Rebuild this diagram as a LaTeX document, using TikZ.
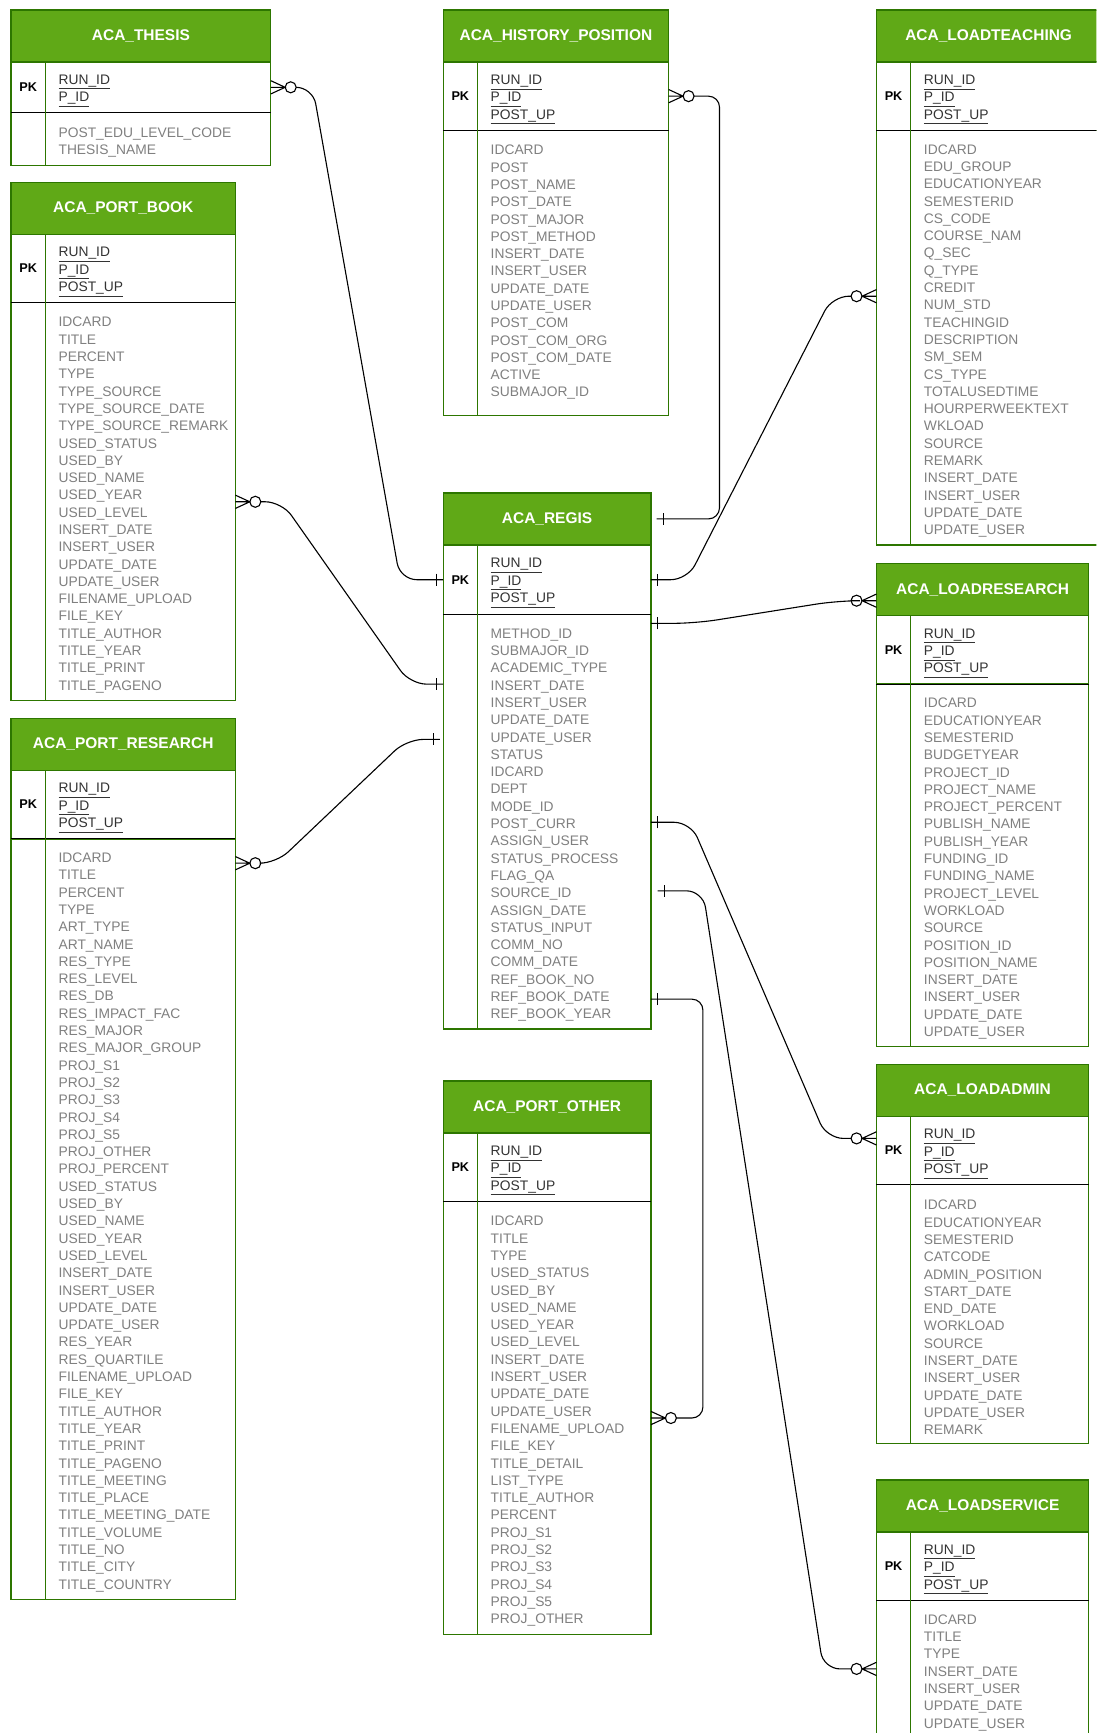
\documentclass[tikz,border=0pt]{standalone}
\usepackage{fontspec}
\setmainfont{Liberation Sans}
\usetikzlibrary{positioning}

\definecolor{headgreen}{HTML}{60A917}
\definecolor{framegreen}{HTML}{2D7600}
\definecolor{keygray}{HTML}{333333}
\definecolor{colgray}{HTML}{808080}

% zero-or-many end (circle + crow's foot)
\pgfdeclarearrow{
  name = ERmany,
  parameters = {\the\pgflinewidth},
  setup code = {
    \pgfarrowssettipend{0pt}
    \pgfarrowssetlineend{-23pt}
    \pgfarrowssetbackend{-23pt}
    \pgfarrowsupperhullpoint{0pt}{6pt}
    \pgfarrowsupperhullpoint{-23pt}{5pt}
  },
  drawing code = {
    \pgfpathmoveto{\pgfqpoint{0pt}{6pt}}
    \pgfpathlineto{\pgfqpoint{-13pt}{0pt}}
    \pgfpathlineto{\pgfqpoint{0pt}{-6pt}}
    \pgfpathmoveto{\pgfqpoint{-13pt}{0pt}}
    \pgfpathlineto{\pgfqpoint{0pt}{0pt}}
    \pgfusepathqstroke
    \pgfpathcircle{\pgfqpoint{-18pt}{0pt}}{5pt}
    \pgfusepathqstroke
  }
}
% exactly-one end (bar)
\pgfdeclarearrow{
  name = ERone,
  parameters = {\the\pgflinewidth},
  setup code = {
    \pgfarrowssettipend{0pt}
    \pgfarrowssetlineend{0pt}
    \pgfarrowssetbackend{-7pt}
    \pgfarrowsupperhullpoint{-7pt}{5.5pt}
    \pgfarrowsupperhullpoint{0pt}{5.5pt}
  },
  drawing code = {
    \pgfpathmoveto{\pgfqpoint{-6pt}{5.5pt}}
    \pgfpathlineto{\pgfqpoint{-6pt}{-5.5pt}}
    \pgfusepathqstroke
  }
}

\begin{document}
\begin{tikzpicture}[x=1pt, y=-1pt,
  tblhead/.style={draw=framegreen, fill=headgreen, line width=1.2pt, anchor=north west,
    inner sep=0pt, outer sep=0pt, minimum height=47pt, text=white,
    font=\fontsize{14}{16}\selectfont\bfseries},
  tblbox/.style={draw=framegreen, fill=white, line width=1.2pt, inner sep=0pt, outer sep=0pt},
  keytext/.style={inner sep=0pt, outer sep=0pt, align=left, text=keygray, yshift=-3pt,
    font=\fontsize{12.5}{15.65}\selectfont},
  coltext/.style={keytext, text=colgray},
  pk/.style={inner sep=0pt, font=\fontsize{11.5}{13}\selectfont\bfseries},
  relation/.style={draw=black, line width=1pt, rounded corners=15pt, arrows={ERone-ERmany}}]

\clip[use as bounding box] (0,0) rectangle (992,1568);

% ACA_THESIS
\node[tblhead, minimum width=235pt] (thesis) at (10,9) {ACA\_THESIS};
\node[tblbox, minimum width=235pt, minimum height=46pt, below=0pt of thesis] (thesis-pk) {};
\node[tblbox, minimum width=235pt, minimum height=48pt, below=0pt of thesis-pk] (thesis-body) {};
\node[keytext, right=43pt of thesis-pk.west] (thesis-keys) {\underline{RUN\_ID}\\ \underline{P\_ID}};
\node[coltext, right=43pt of thesis-body.west] (thesis-cols) {POST\_EDU\_LEVEL\_CODE\\ THESIS\_NAME};

% ACA_HISTORY_POSITION
\node[tblhead, minimum width=204pt] (history) at (401,9) {ACA\_HISTORY\_POSITION};
\node[tblbox, minimum width=204pt, minimum height=62pt, below=0pt of history] (history-pk) {};
\node[tblbox, minimum width=204pt, minimum height=258pt, below=0pt of history-pk] (history-body) {};
\node[keytext, right=43pt of history-pk.west] (history-keys) {\underline{RUN\_ID}\\ \underline{P\_ID}\\ \underline{POST\_UP}};
\node[coltext, right=43pt of history-body.west, yshift=3.5pt] (history-cols) {
IDCARD\\ POST\\ POST\_NAME\\ POST\_DATE\\ POST\_MAJOR\\ POST\_METHOD\\ INSERT\_DATE\\ INSERT\_USER\\
UPDATE\_DATE\\ UPDATE\_USER\\ POST\_COM\\ POST\_COM\_ORG\\ POST\_COM\_DATE\\ ACTIVE\\ SUBMAJOR\_ID};

% ACA_LOADTEACHING
\node[tblhead, minimum width=203pt] (teach) at (793,9) {ACA\_LOADTEACHING};
\node[tblbox, minimum width=203pt, minimum height=62pt, below=0pt of teach] (teach-pk) {};
\node[tblbox, minimum width=203pt, minimum height=375pt, below=0pt of teach-pk] (teach-body) {};
\node[keytext, right=43pt of teach-pk.west] (teach-keys) {\underline{RUN\_ID}\\ \underline{P\_ID}\\ \underline{POST\_UP}};
\node[coltext, right=43pt of teach-body.west] (teach-cols) {
IDCARD\\ EDU\_GROUP\\ EDUCATIONYEAR\\ SEMESTERID\\ CS\_CODE\\ COURSE\_NAM\\ Q\_SEC\\ Q\_TYPE\\ CREDIT\\
NUM\_STD\\ TEACHINGID\\ DESCRIPTION\\ SM\_SEM\\ CS\_TYPE\\ TOTALUSEDTIME\\ HOURPERWEEKTEXT\\ WKLOAD\\
SOURCE\\ REMARK\\ INSERT\_DATE\\ INSERT\_USER\\ UPDATE\_DATE\\ UPDATE\_USER};

% ACA_PORT_BOOK
\node[tblhead, minimum width=203pt] (book) at (10,165) {ACA\_PORT\_BOOK};
\node[tblbox, minimum width=203pt, minimum height=62pt, below=0pt of book] (book-pk) {};
\node[tblbox, minimum width=203pt, minimum height=360pt, below=0pt of book-pk] (book-body) {};
\node[keytext, right=43pt of book-pk.west] (book-keys) {\underline{RUN\_ID}\\ \underline{P\_ID}\\ \underline{POST\_UP}};
\node[coltext, right=43pt of book-body.west] (book-cols) {
IDCARD\\ TITLE\\ PERCENT\\ TYPE\\ TYPE\_SOURCE\\ TYPE\_SOURCE\_DATE\\ TYPE\_SOURCE\_REMARK\\ USED\_STATUS\\
USED\_BY\\ USED\_NAME\\ USED\_YEAR\\ USED\_LEVEL\\ INSERT\_DATE\\ INSERT\_USER\\ UPDATE\_DATE\\ UPDATE\_USER\\
FILENAME\_UPLOAD\\ FILE\_KEY\\ TITLE\_AUTHOR\\ TITLE\_YEAR\\ TITLE\_PRINT\\ TITLE\_PAGENO};

% ACA_REGIS
\node[tblhead, minimum width=188pt] (regis) at (401,446) {ACA\_REGIS};
\node[tblbox, minimum width=188pt, minimum height=63pt, below=0pt of regis] (regis-pk) {};
\node[tblbox, minimum width=188pt, minimum height=375pt, below=0pt of regis-pk] (regis-body) {};
\node[keytext, right=43pt of regis-pk.west] (regis-keys) {\underline{RUN\_ID}\\ \underline{P\_ID}\\ \underline{POST\_UP}};
\node[coltext, right=43pt of regis-body.west] (regis-cols) {
METHOD\_ID\\ SUBMAJOR\_ID\\ ACADEMIC\_TYPE\\ INSERT\_DATE\\ INSERT\_USER\\ UPDATE\_DATE\\ UPDATE\_USER\\
STATUS\\ IDCARD\\ DEPT\\ MODE\_ID\\ POST\_CURR\\ ASSIGN\_USER\\ STATUS\_PROCESS\\ FLAG\_QA\\ SOURCE\_ID\\
ASSIGN\_DATE\\ STATUS\_INPUT\\ COMM\_NO\\ COMM\_DATE\\ REF\_BOOK\_NO\\ REF\_BOOK\_DATE\\ REF\_BOOK\_YEAR};

% ACA_LOADRESEARCH
\node[tblhead, minimum width=192pt] (research) at (793,510) {ACA\_LOADRESEARCH};
\node[tblbox, minimum width=192pt, minimum height=62pt, below=0pt of research] (research-pk) {};
\node[tblbox, minimum width=192pt, minimum height=328pt, below=0pt of research-pk] (research-body) {};
\node[keytext, right=43pt of research-pk.west] (research-keys) {\underline{RUN\_ID}\\ \underline{P\_ID}\\ \underline{POST\_UP}};
\node[coltext, right=43pt of research-body.west] (research-cols) {
IDCARD\\ EDUCATIONYEAR\\ SEMESTERID\\ BUDGETYEAR\\ PROJECT\_ID\\ PROJECT\_NAME\\ PROJECT\_PERCENT\\
PUBLISH\_NAME\\ PUBLISH\_YEAR\\ FUNDING\_ID\\ FUNDING\_NAME\\ PROJECT\_LEVEL\\ WORKLOAD\\ SOURCE\\
POSITION\_ID\\ POSITION\_NAME\\ INSERT\_DATE\\ INSERT\_USER\\ UPDATE\_DATE\\ UPDATE\_USER};

% ACA_PORT_RESEARCH
\node[tblhead, minimum width=203pt] (pres) at (10,650) {ACA\_PORT\_RESEARCH};
\node[tblbox, minimum width=203pt, minimum height=62pt, below=0pt of pres] (pres-pk) {};
\node[tblbox, minimum width=203pt, minimum height=688pt, below=0pt of pres-pk] (pres-body) {};
\node[keytext, right=43pt of pres-pk.west] (pres-keys) {\underline{RUN\_ID}\\ \underline{P\_ID}\\ \underline{POST\_UP}};
\node[coltext, right=43pt of pres-body.west] (pres-cols) {
IDCARD\\ TITLE\\ PERCENT\\ TYPE\\ ART\_TYPE\\ ART\_NAME\\ RES\_TYPE\\ RES\_LEVEL\\ RES\_DB\\
RES\_IMPACT\_FAC\\ RES\_MAJOR\\ RES\_MAJOR\_GROUP\\ PROJ\_S1\\ PROJ\_S2\\ PROJ\_S3\\ PROJ\_S4\\ PROJ\_S5\\
PROJ\_OTHER\\ PROJ\_PERCENT\\ USED\_STATUS\\ USED\_BY\\ USED\_NAME\\ USED\_YEAR\\ USED\_LEVEL\\
INSERT\_DATE\\ INSERT\_USER\\ UPDATE\_DATE\\ UPDATE\_USER\\ RES\_YEAR\\ RES\_QUARTILE\\ FILENAME\_UPLOAD\\
FILE\_KEY\\ TITLE\_AUTHOR\\ TITLE\_YEAR\\ TITLE\_PRINT\\ TITLE\_PAGENO\\ TITLE\_MEETING\\ TITLE\_PLACE\\
TITLE\_MEETING\_DATE\\ TITLE\_VOLUME\\ TITLE\_NO\\ TITLE\_CITY\\ TITLE\_COUNTRY};

% ACA_PORT_OTHER
\node[tblhead, minimum width=188pt] (other) at (401,978) {ACA\_PORT\_OTHER};
\node[tblbox, minimum width=188pt, minimum height=62pt, below=0pt of other] (other-pk) {};
\node[tblbox, minimum width=188pt, minimum height=392pt, below=0pt of other-pk] (other-body) {};
\node[keytext, right=43pt of other-pk.west] (other-keys) {\underline{RUN\_ID}\\ \underline{P\_ID}\\ \underline{POST\_UP}};
\node[coltext, right=43pt of other-body.west] (other-cols) {
IDCARD\\ TITLE\\ TYPE\\ USED\_STATUS\\ USED\_BY\\ USED\_NAME\\ USED\_YEAR\\ USED\_LEVEL\\ INSERT\_DATE\\
INSERT\_USER\\ UPDATE\_DATE\\ UPDATE\_USER\\ FILENAME\_UPLOAD\\ FILE\_KEY\\ TITLE\_DETAIL\\ LIST\_TYPE\\
TITLE\_AUTHOR\\ PERCENT\\ PROJ\_S1\\ PROJ\_S2\\ PROJ\_S3\\ PROJ\_S4\\ PROJ\_S5\\ PROJ\_OTHER};

% ACA_LOADADMIN
\node[tblhead, minimum width=192pt] (admin) at (793,963) {ACA\_LOADADMIN};
\node[tblbox, minimum width=192pt, minimum height=62pt, below=0pt of admin] (admin-pk) {};
\node[tblbox, minimum width=192pt, minimum height=234pt, below=0pt of admin-pk] (admin-body) {};
\node[keytext, right=43pt of admin-pk.west] (admin-keys) {\underline{RUN\_ID}\\ \underline{P\_ID}\\ \underline{POST\_UP}};
\node[coltext, right=43pt of admin-body.west] (admin-cols) {
IDCARD\\ EDUCATIONYEAR\\ SEMESTERID\\ CATCODE\\ ADMIN\_POSITION\\ START\_DATE\\ END\_DATE\\ WORKLOAD\\
SOURCE\\ INSERT\_DATE\\ INSERT\_USER\\ UPDATE\_DATE\\ UPDATE\_USER\\ REMARK};

% ACA_LOADSERVICE
\node[tblhead, minimum width=192pt] (service) at (793,1339) {ACA\_LOADSERVICE};
\node[tblbox, minimum width=192pt, minimum height=62pt, below=0pt of service] (service-pk) {};
\node[tblbox, minimum width=192pt, minimum height=125pt, below=0pt of service-pk] (service-body) {};
\node[keytext, right=43pt of service-pk.west] (service-keys) {\underline{RUN\_ID}\\ \underline{P\_ID}\\ \underline{POST\_UP}};
\node[coltext, right=43pt of service-body.west] (service-cols) {
IDCARD\\ TITLE\\ TYPE\\ INSERT\_DATE\\ INSERT\_USER\\ UPDATE\_DATE\\ UPDATE\_USER};

% PK column and key/column separator
\foreach \t in {thesis, history, teach, book, regis, research, pres, other, admin, service} {
  \draw[black, line width=1pt] (\t-body.north west) -- (\t-body.north east);
  \draw[framegreen, line width=1.2pt] ([xshift=31pt]\t-pk.north west) -- ([xshift=31pt]\t-body.south west);
  \node[pk] (\t-pkl) at ([xshift=15.5pt]\t-pk.west) {PK};
}

% relations
\draw[relation] (regis-pk.west) -- ++(-39,0) -- ([xshift=38pt]thesis-pk.east) -- (thesis-pk.east);
\draw[relation, rounded corners=10pt] ([xshift=5pt]regis.east) -- ++(57,0) |- (history-pk.east);
\draw[relation] (regis-pk.east) -- ++(33,0) -- ([xshift=-40pt,yshift=-150pt]teach-body.north west) -- ([yshift=-150pt]teach-body.north west);
\draw[relation, rounded corners=20pt] ([yshift=-8pt]regis-body.north east) -- ++(40,0) -- ([xshift=-35pt,yshift=-10pt]research.west) -- ([yshift=-10pt]research.west);
\draw[relation] ([yshift=-188pt]regis-body.north east) -- ++(36,0) -- ([xshift=-45pt,yshift=-20pt]admin-pk.north west) -- ([yshift=-20pt]admin-pk.north west);
\draw[relation] ([xshift=6pt,yshift=-250pt]regis-body.north east) -- ++(41,0) -- ([xshift=-48pt,yshift=-62pt]service-body.north west) -- ([yshift=-62pt]service-body.north west);
\draw[relation, rounded corners=10pt] ([yshift=-348pt]regis-body.north east) -- ++(47,0) |- ([yshift=-196pt]other-body.north east);
\draw[relation] ([yshift=-63pt]regis-body.north west) -- ++(-30,0) -- ([xshift=42pt,yshift=-180pt]book-body.north east) -- ([yshift=-180pt]book-body.north east);
\draw[relation] ([xshift=-3pt,yshift=-113pt]regis-body.north west) -- ++(-30,0) -- ([xshift=37pt,yshift=-22pt]pres-body.north east) -- ([yshift=-22pt]pres-body.north east);

\end{tikzpicture}
\end{document}
